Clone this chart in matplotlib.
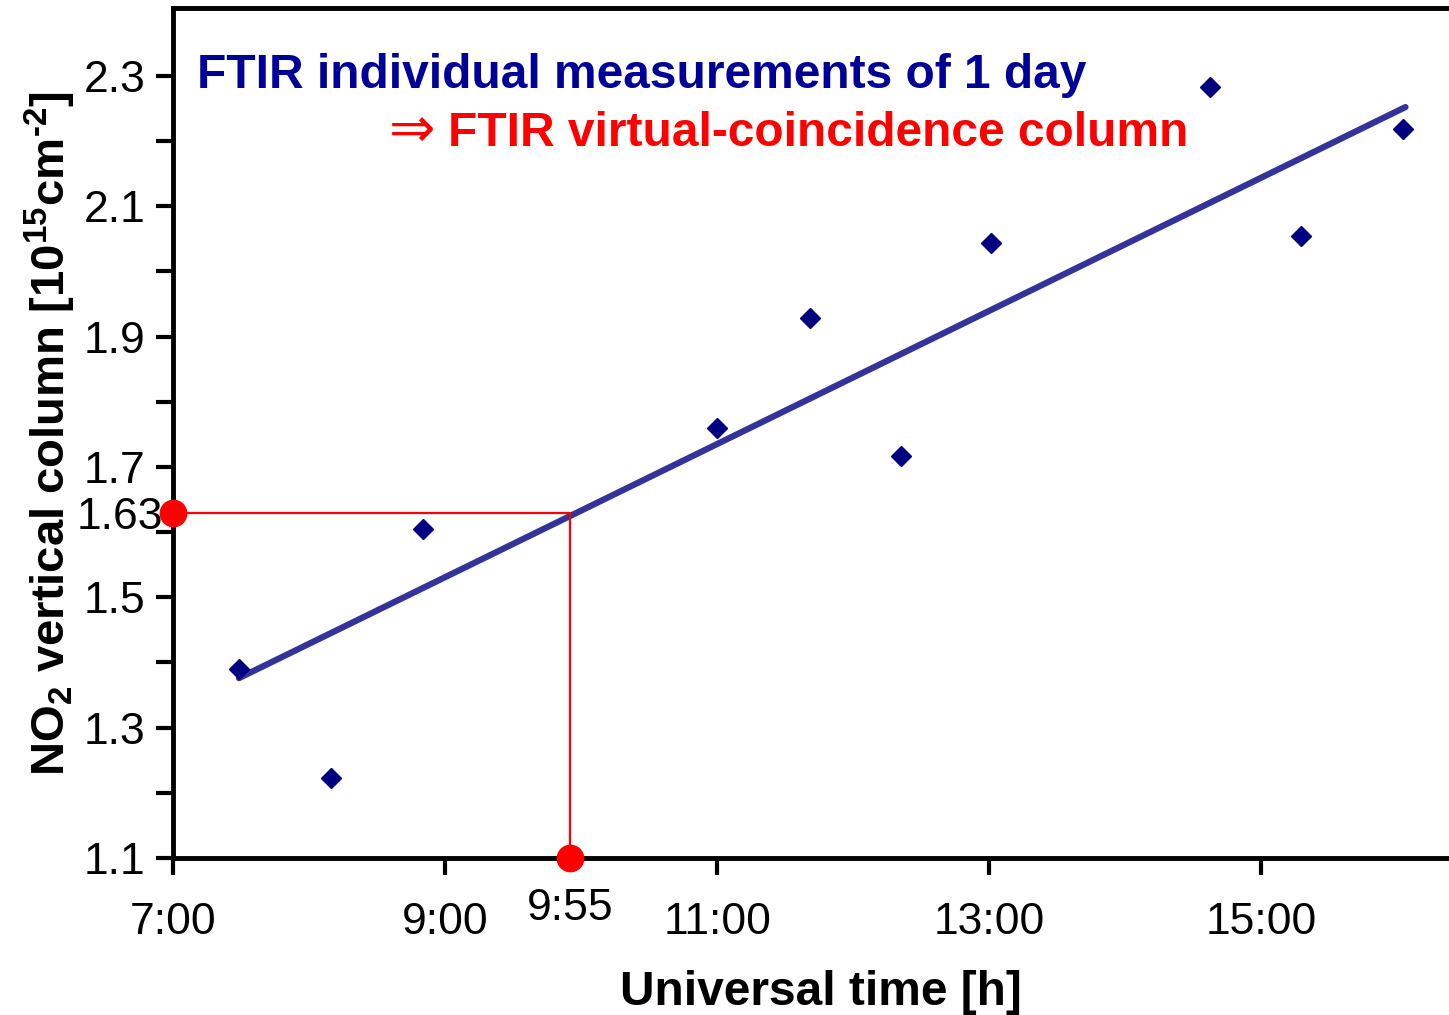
import matplotlib
matplotlib.use('Agg')
import matplotlib.pyplot as plt
import matplotlib.transforms as mtransforms

plt.rcParams['font.family'] = ['Liberation Sans', 'DejaVu Sans']
plt.rcParams['mathtext.fontset'] = 'custom'
plt.rcParams['mathtext.rm'] = 'Liberation Sans:bold'
plt.rcParams['mathtext.bf'] = 'Liberation Sans:bold'
plt.rcParams['mathtext.default'] = 'bf'

# measurement times (hours UT) and NO2 columns [1e15 cm-2]
times = [7.485, 8.16, 8.84, 11.0, 11.68, 12.35, 13.01, 14.625, 15.29, 16.04]
no2 = [1.39, 1.223, 1.605, 1.76, 1.929, 1.717, 2.044, 2.283, 2.054, 2.219]

# trend line end points
trend_x = [7.485, 16.06]
trend_y = [1.376, 2.252]

# virtual coincidence
t_coinc = 9 + 55 / 60
v_coinc = 1.63

xticks = [7, 9, 11, 13, 15]
xticklabels = ['7:00', '9:00', '11:00', '13:00', '15:00']
yticks = [1.1, 1.2, 1.3, 1.4, 1.5, 1.6, 1.7, 1.8, 1.9, 2.0, 2.1, 2.2, 2.3]
ylabels = ['1.1', '', '1.3', '', '1.5', '', '1.7', '', '1.9', '', '2.1', '', '2.3']

fig = plt.figure(figsize=(14.49, 10.15), dpi=100)
ax = fig.add_axes([173 / 1449, 1 - 858 / 1015, 1276 / 1449, 850 / 1015])

ax.plot(trend_x, trend_y, color='#333399', lw=4.5, solid_capstyle='round', zorder=2)
ax.plot(times, no2, 'D', color='#000080', ms=10.5, ls='none', zorder=3)

# red construction lines
ax.plot([7, t_coinc, t_coinc], [v_coinc, v_coinc, 1.1], color='#ff0000', lw=1.6, zorder=4)
ax.plot([7], [v_coinc], 'o', color='#ff0000', ms=19, clip_on=False, zorder=5)
ax.plot([t_coinc], [1.1], 'o', color='#ff0000', ms=19, clip_on=False, zorder=5)

ax.set_xlim(7, 16.38)
ax.set_ylim(1.1, 2.404)
ax.set_xticks(xticks)
ax.set_xticklabels(xticklabels)
ax.set_yticks(yticks)
ax.set_yticklabels(ylabels)
ax.tick_params(axis='both', direction='out', length=12, width=3, labelsize=32)
ax.tick_params(axis='x', pad=20)
ax.tick_params(axis='y', pad=8)

for s in ['left', 'bottom', 'top']:
    ax.spines[s].set_linewidth(3.5)
ax.spines['right'].set_visible(False)

# extra labels for the coincidence values
trans_x = mtransforms.blended_transform_factory(ax.transData, ax.transAxes)
ax.text(t_coinc, -0.06, '9:55', transform=trans_x, ha='center', va='center', fontsize=32)
trans_y = mtransforms.blended_transform_factory(ax.transAxes, ax.transData)
ax.text(-0.008, v_coinc - 0.008, '1.63', transform=trans_y, ha='right', va='center',
        fontsize=32)

ax.set_xlabel('Universal time [h]', fontsize=34.5, fontweight='bold', va='center')
ax.xaxis.set_label_coords(0.508, -0.158)
ax.set_ylabel(r'NO$_2$ vertical column [10$^{15}$cm$^{\text{-2}}$]', fontsize=34,
              fontweight='bold', va='center')
ax.yaxis.set_label_coords(-0.096, 0.5)

ax.text(197 / 1449, 1 - 88 / 1015, 'FTIR individual measurements of 1 day',
        transform=fig.transFigure, color='#000099', fontsize=34.5, fontweight='bold',
        ha='left', va='baseline')
ax.text(1188 / 1449, 1 - 146 / 1015, 'FTIR virtual-coincidence column',
        transform=fig.transFigure, color='#ff0000', fontsize=34.5, fontweight='bold',
        ha='right', va='baseline')
ax.text(412 / 1449, 1 - 132 / 1015, '\u21d2', transform=fig.transFigure,
        color='#ff0000', fontsize=40, ha='center', va='center', family='DejaVu Sans')

fig.savefig('out.png', dpi=100)
